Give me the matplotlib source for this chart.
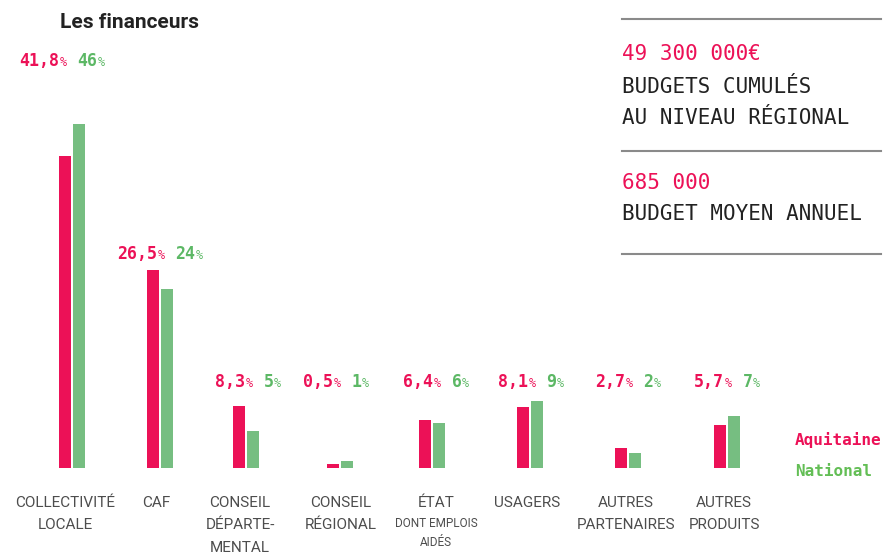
import matplotlib
matplotlib.use('Agg')
import matplotlib.pyplot as plt
from matplotlib.offsetbox import TextArea, HPacker, AnnotationBbox

# data
categories = ['COLLECTIVITÉ\nLOCALE', 'CAF', 'CONSEIL\nDÉPARTE-\nMENTAL', 'CONSEIL\nRÉGIONAL',
              'ÉTAT', 'USAGERS', 'AUTRES\nPARTENAIRES', 'AUTRES\nPRODUITS']
aquitaine = [41.8, 26.5, 8.3, 0.5, 6.4, 8.1, 2.7, 5.7]
national = [46, 24, 5, 1, 6, 9, 2, 7]
aquitaine_txt = ['41,8', '26,5', '8,3', '0,5', '6,4', '8,1', '2,7', '5,7']
national_txt = ['46', '24', '5', '1', '6', '9', '2', '7']
budget_total = '49 300 000€'
budget_total_lbl = ['BUDGETS CUMULÉS', 'AU NIVEAU RÉGIONAL']
budget_moyen = '685 000'
budget_moyen_lbl = 'BUDGET MOYEN ANNUEL'

# layout (pixels)
W, H = 885, 556
group_x = [72, 160, 246, 340, 432, 530, 628, 727]
cat_x = [65, 156, 240, 341, 436, 527, 626, 724]
val_x = [62, 160, 248, 336, 436, 531, 628, 727]
val_y = [61, 254, 382, 382, 382, 382, 382, 382]
base_y = 468
px_per_pct = 7.47

PINK = '#ec1157'
GREEN = '#76be81'
GREEN_TXT = '#5cb865'
DARK = '#222222'
GRAY = '#4d4d4d'
COND = ['Roboto', 'DejaVu Sans']
MONO = 'DejaVu Sans Mono'

fig = plt.figure(figsize=(W / 100, H / 100), dpi=100)

# bars axis: x in pixels, y in percent
ax = fig.add_axes([0, (H - base_y) / H, 1, 50 * px_per_pct / H])
ax.set_xlim(0, W)
ax.set_ylim(0, 50)
ax.axis('off')
ax.bar([x - 7 for x in group_x], aquitaine, width=12, color=PINK)
ax.bar([x + 7 for x in group_x], national, width=12, color=GREEN)

# overlay for text, pixel coords top-down
ov = fig.add_axes([0, 0, 1, 1])
ov.set_xlim(0, W)
ov.set_ylim(H, 0)
ov.axis('off')

ov.text(60, 22, 'Les financeurs', fontsize=15, fontweight='bold', family=COND,
        color=DARK, va='center', ha='left')

for i in range(len(categories)):
    pa = HPacker(children=[TextArea(aquitaine_txt[i], textprops=dict(color=PINK, family=MONO, fontsize=12, fontweight='bold')),
                           TextArea('%', textprops=dict(color=PINK, family=MONO, fontsize=8.5))],
                 align='baseline', pad=0, sep=0)
    pn = HPacker(children=[TextArea(national_txt[i], textprops=dict(color=GREEN_TXT, family=MONO, fontsize=12, fontweight='bold')),
                           TextArea('%', textprops=dict(color=GREEN_TXT, family=MONO, fontsize=8.5))],
                 align='baseline', pad=0, sep=0)
    box = HPacker(children=[pa, pn], align='baseline', pad=0, sep=8)
    ab = AnnotationBbox(box, (val_x[i], val_y[i]), xycoords='data', frameon=False,
                        box_alignment=(0.5, 0.5), pad=0)
    ov.add_artist(ab)

    ov.text(cat_x[i], 496, categories[i], fontsize=11, family=COND, color=GRAY,
            ha='center', va='top', linespacing=1.75)

# sub label under ETAT
ov.text(cat_x[4], 517, 'DONT EMPLOIS\nAIDÉS', fontsize=8.5, family=COND, color=GRAY,
        ha='center', va='top', linespacing=1.55)

# legend
ov.text(795, 440, 'Aquitaine', fontsize=11.5, fontweight='bold', family=MONO, color=PINK, va='center')
ov.text(795, 472, 'National', fontsize=11.5, fontweight='bold', family=MONO, color='#63be55', va='center')

# right panel
for y in [19, 151, 254]:
    ov.plot([622, 881], [y, y], color='#8a8a8a', lw=1.5)
ov.text(622, 54, budget_total, fontsize=15, family=MONO, color=PINK, va='center')
ov.text(622, 87, budget_total_lbl[0], fontsize=15, family=MONO, color=DARK, va='center')
ov.text(622, 118, budget_total_lbl[1], fontsize=15, family=MONO, color=DARK, va='center')
ov.text(622, 183, budget_moyen, fontsize=15, family=MONO, color=PINK, va='center')
ov.text(622, 214, budget_moyen_lbl, fontsize=15, family=MONO, color=DARK, va='center')

fig.savefig('out.png', dpi=100)
